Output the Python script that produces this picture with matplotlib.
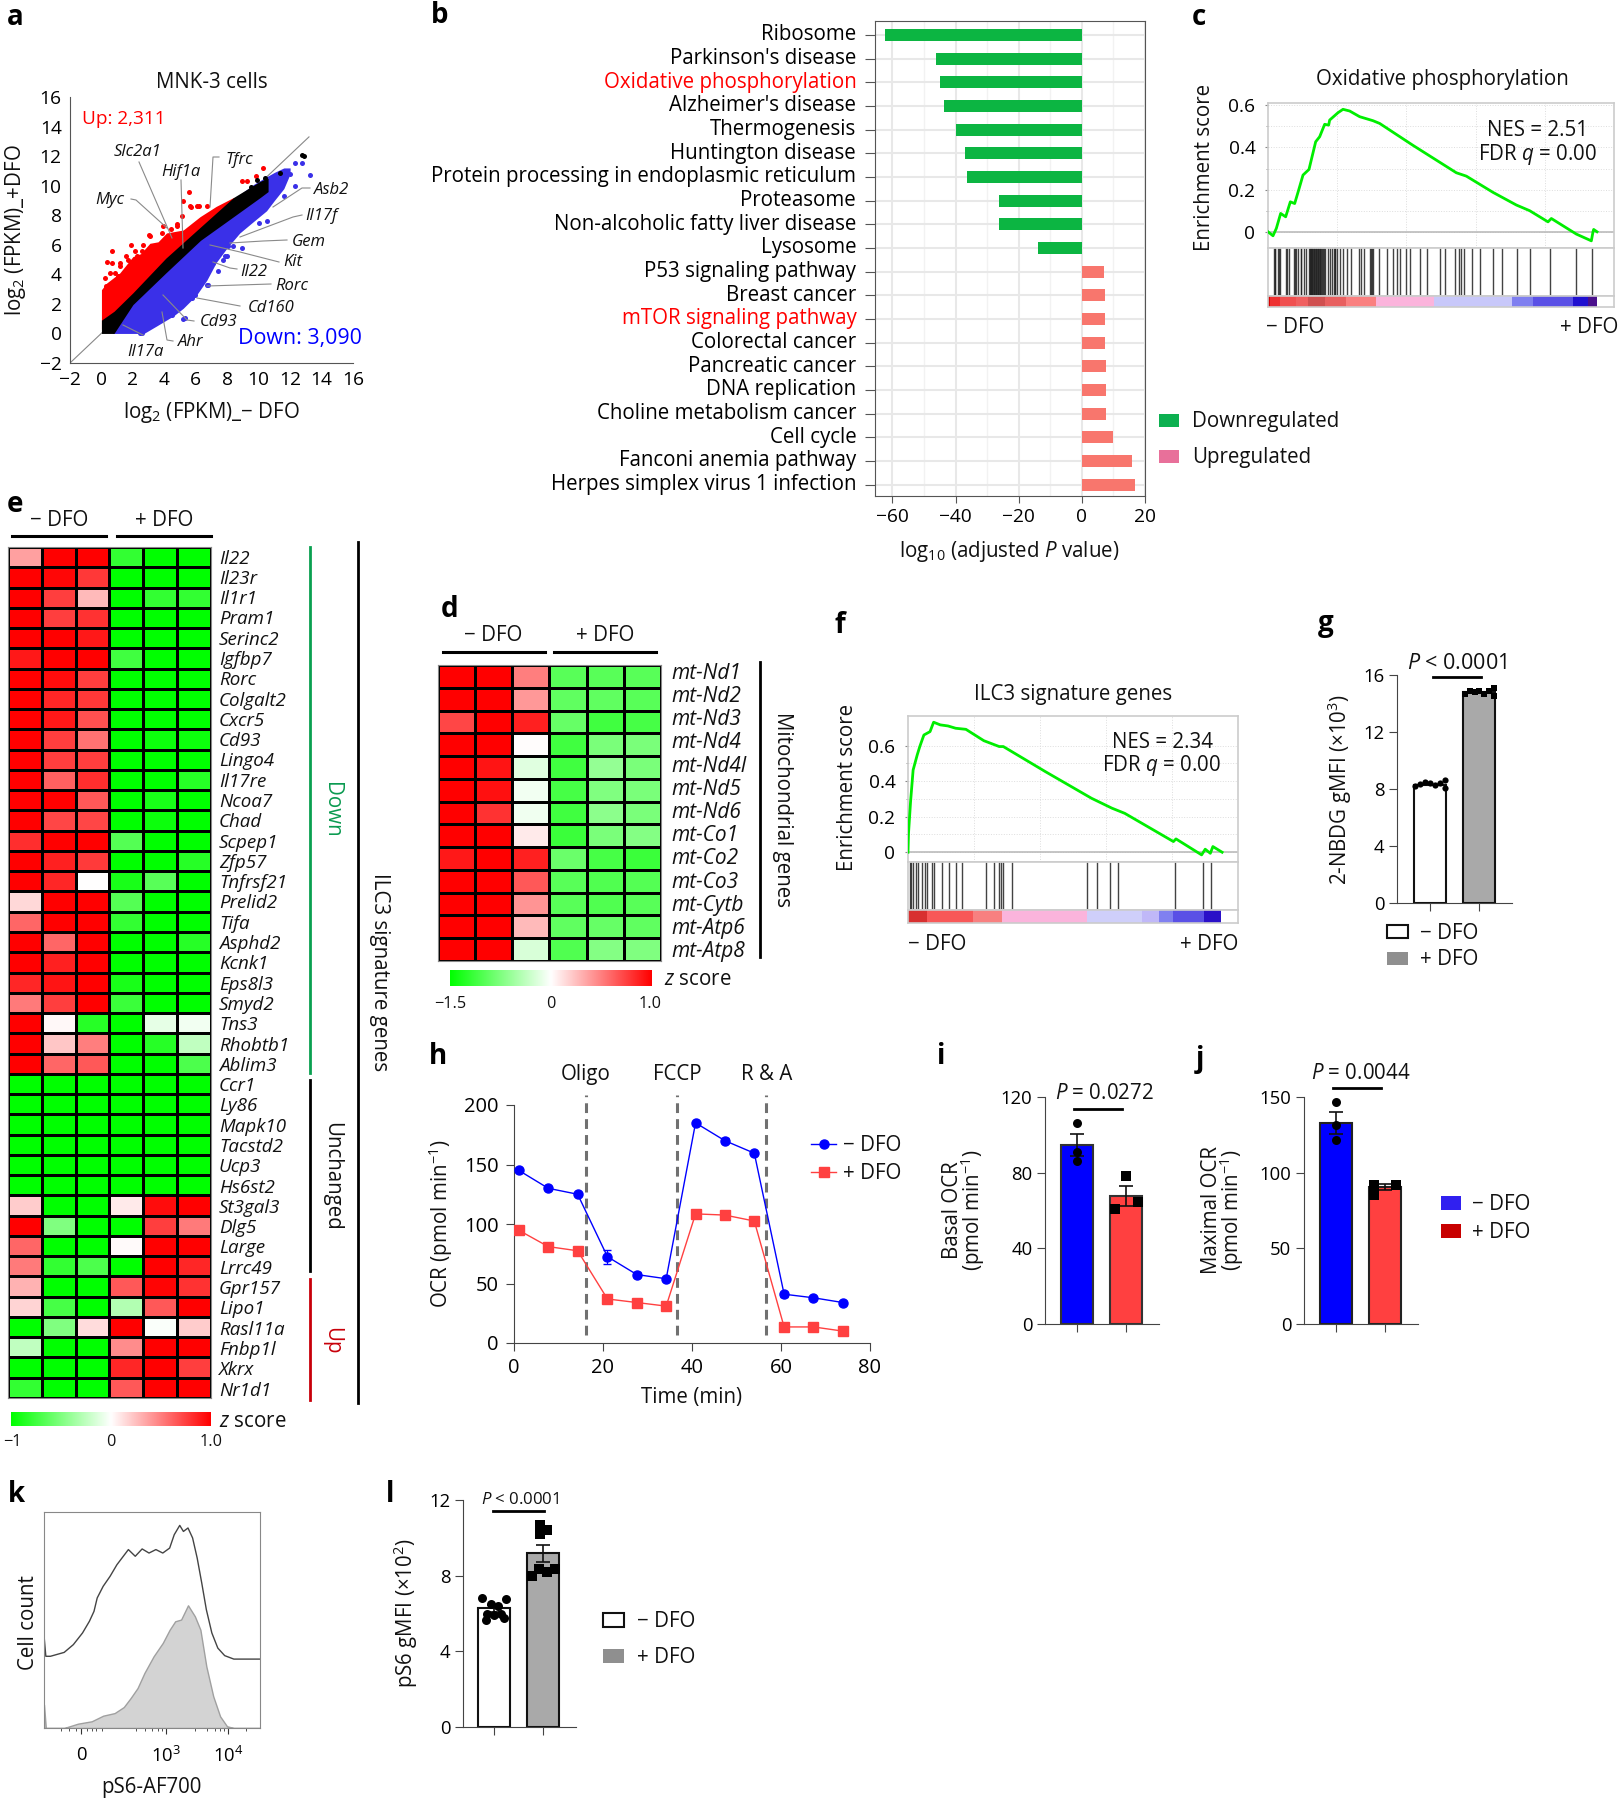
#!/usr/bin/python
import numpy as np
import matplotlib
matplotlib.use("Agg")
import matplotlib.pyplot as plt
from matplotlib.colors import LinearSegmentedColormap
from matplotlib.lines import Line2D
from matplotlib.patches import Rectangle

plt.rcParams['font.family'] = ['Open Sans', 'DejaVu Sans']
plt.rcParams['mathtext.fontset'] = 'custom'
plt.rcParams['mathtext.rm'] = 'Open Sans'
plt.rcParams['mathtext.it'] = 'Open Sans:italic'
plt.rcParams['mathtext.default'] = 'regular'

W, H = 1624, 1800
FS = 14.8
FS_GENE = 13.5

# panel a: edges of the dense clouds and the points lying outside them
red_x = [0, 0.32, 1.17, 2.0, 2.5, 3.08, 3.6, 4.14, 5.2, 6.27, 7.3, 8.4, 9.0, 9.6]
red_top = [2.96, 3.4, 4.1, 5.2, 5.4, 6.1, 6.2, 6.8, 7.0, 7.9, 8.6, 9.2, 9.05, 9.6]
red_low = [0.3, 0.6, 1.2, 2.0, 2.5, 3.1, 3.6, 4.2, 5.2, 6.2, 7.3, 8.3, 8.8, 9.4]
red_pts_x = [5.57, 5.16, 5.67, 6.23, 5.12, 4.42, 4.78, 10.26, 9.84, 8.92, 9.24, 0.64, 1.91, 2.12, 2.65, 1.59,
             0.64, 1.17, 0.53, 0.32, 1.06, 1.91, 3.08, 3.82, 6.69, 0.36, 3.02, 3.93, 4.78, 6.06, 5.63, 1.17, 1.7,
             2.23, 2.55, 0.85, 0.21]
red_pts_y = [9.55, 8.94, 8.56, 8.65, 7.93, 7.09, 7.25, 11.2, 10.68, 10.34, 10.29, 5.56, 6.0, 5.56, 6.0, 5.22,
             4.77, 4.54, 4.09, 3.19, 3.87, 4.77, 6.57, 6.8, 8.6, 4.81, 6.68, 7.25, 7.43, 8.65, 8.65, 4.77, 5.0,
             5.22, 5.56, 4.09, 3.75]
blue_x = [0.7, 2.7, 3.5, 4.6, 5.2, 6.05, 6.7, 7.3, 8, 8.8, 9.7, 10.5, 11, 11.6, 12]
blue_low = [0, 0, 0.5, 1.2, 1.7, 2.6, 3.6, 4.8, 5.8, 6.8, 7.6, 8.3, 9, 9.8, 10.8]
blue_top = [0.8, 3.1, 3.9, 5.1, 5.7, 6.6, 7.3, 7.9, 8.5, 9.4, 10.1, 10.6, 10.9, 11.2, 11.2]
blue_pts_x = [12.75, 12.33, 13.28, 12.33, 12.0, 11.58, 10.52, 9.99, 8.92, 8.39, 7.44, 6.8, 5.74, 5.2, 4.5, 2.44,
              7.97, 7.12, 6.27, 7.86, 8.07, 7.75, 6.73, 5.95, 5.31, 3.82, 2.55]
blue_pts_y = [11.53, 11.53, 10.75, 9.96, 10.8, 9.28, 7.59, 7.47, 5.78, 5.9, 4.2, 3.26, 2.4, 0.98, 1.27, 0.03,
              5.22, 4.77, 3.41, 5.22, 5.9, 5.0, 3.3, 2.62, 1.05, 1.6, 0.03]
black_x = [0, 0.8, 2, 4.1, 6.3, 8.4, 10.1, 10.6]
black_top = [0.9, 1.5, 2.75, 5.1, 7.2, 9.2, 10.3, 10.5]
black_low = [0, 0, 1.95, 4.1, 6.3, 7.9, 9.2, 9.6]
black_pts_x = [12.75, 12.9, 11.33, 9.5, 9.9, 10.4]
black_pts_y = [12.1, 12.0, 10.86, 9.9, 10.4, 10.5]
a_ticks = [-2, 0, 2, 4, 6, 8, 10, 12, 14, 16]

# label, label centre, then the leader line (px)
a_genes = [
    ('Slc2a1', 138, 151, [139, 172], [162, 238]),
    ('Hif1a', 181, 171, [181, 183], [180, 248]),
    ('Tfrc', 239, 158, [219, 213, 210], [157, 157, 207]),
    ('Myc', 110, 198, [131, 136, 167], [199, 200, 228]),
    ('Asb2', 332, 188, [310, 302, 273], [188, 188, 207]),
    ('Il17f', 321, 214, [302, 293, 240], [215, 217, 237]),
    ('Gem', 309, 240, [287, 263, 230], [240, 241, 243]),
    ('Kit', 293, 260, [279, 240, 210], [262, 252, 245]),
    ('Il22', 254, 270, [237, 230, 213], [269, 268, 262]),
    ('Rorc', 292, 284, [271, 207], [284, 286]),
    ('Cd160', 271, 306, [240, 197], [306, 298]),
    ('Cd93', 219, 321, [194, 187, 163], [321, 320, 295]),
    ('Ahr', 191, 341, [173, 167, 162], [341, 340, 312]),
    ('Il17a', 145, 351, [143, 123], [335, 325]),
]

# panel b
pathways = ['Ribosome', "Parkinson's disease", 'Oxidative phosphorylation', "Alzheimer's disease", 'Thermogenesis',
            'Huntington disease', 'Protein processing in endoplasmic reticulum', 'Proteasome',
            'Non-alcoholic fatty liver disease', 'Lysosome', 'P53 signaling pathway', 'Breast cancer',
            'mTOR signaling pathway', 'Colorectal cancer', 'Pancreatic cancer', 'DNA replication',
            'Choline metabolism cancer', 'Cell cycle', 'Fanconi anemia pathway', 'Herpes simplex virus 1 infection']
path_values = [-62.3, -46.3, -45, -43.8, -39.8, -37, -36.3, -26.2, -26.2, -13.8,
               7.1, 7.2, 7.3, 7.3, 7.5, 7.5, 7.6, 10, 15.9, 16.8]
path_red = ['Oxidative phosphorylation', 'mTOR signaling pathway']

# panel c
c_rank = [0, 15, 25, 38, 53, 67, 80, 92, 105, 123, 143, 155, 170, 182, 185, 210, 225, 245, 275, 315, 335, 435, 565,
          595, 675, 745, 785, 840, 850, 925, 970, 975, 977, 987]
c_es = [0, -.019, .016, .087, .071, .142, .134, .198, .269, .296, .427, .451, .510, .506, .530, .565, .581, .573,
        .546, .527, .514, .410, .280, .264, .187, .127, .100, .047, .063, -.011, -.043, 0, .011, 0]
c_hits = [17, 20, 22, 30, 33, 35, 55, 58, 62, 78, 82, 85, 90, 98, 100, 107, 115, 122, 125, 127, 128, 130, 131, 133,
          135, 137, 139, 141, 143, 145, 147, 149, 151, 153, 155, 157, 160, 162, 165, 167, 170, 180, 185, 193, 197,
          200, 202, 207, 215, 225, 238, 250, 272, 280, 287, 305, 308, 312, 315, 333, 357, 375, 387, 395, 415, 427,
          457, 477, 517, 530, 560, 573, 580, 587, 613, 637, 675, 703, 747, 785, 845, 925, 972]
c_seg_ends = [7, 35, 85, 120, 170, 235, 325, 497, 733, 795, 915, 960, 987]
c_seg_cols = ['#d80000', '#ee3030', '#f05050', '#f06060', '#d05050', '#e86060', '#fa8080', '#fbb4dc', '#c8c8fa',
              '#7f7ff0', '#5a50e6', '#2010d0', '#4a108c']

# panel f
f_rank = [0, 1, 5, 10, 18, 23, 31, 43, 50, 63, 78, 93, 113, 148, 178, 186, 268, 358, 398, 423, 518, 523, 573, 580,
          590, 595, 613]
f_es = [0, .107, .285, .463, .548, .595, .66, .679, .732, .717, .711, .698, .692, .628, .595, .595, .454, .304,
        .248, .219, .060, .075, -.015, .017, -.006, .032, 0]
f_hits = [3, 6, 10, 15, 20, 27, 33, 38, 46, 50, 66, 80, 94, 106, 153, 168, 178, 182, 185, 202, 349, 368, 395, 410,
          522, 576, 591]
f_seg_ends = [38, 126, 184, 349, 456, 490, 518, 578, 611]
f_seg_cols = ['#d83030', '#f85858', '#f88080', '#fbb4dc', '#cfcffa', '#c0b8f8', '#8080f0', '#5a50e6', '#2a10c8']

# panel e
e_genes = ['Il22', 'Il23r', 'Il1r1', 'Pram1', 'Serinc2', 'Igfbp7', 'Rorc', 'Colgalt2', 'Cxcr5', 'Cd93', 'Lingo4',
           'Il17re', 'Ncoa7', 'Chad', 'Scpep1', 'Zfp57', 'Tnfrsf21', 'Prelid2', 'Tifa', 'Asphd2', 'Kcnk1', 'Eps8l3',
           'Smyd2', 'Tns3', 'Rhobtb1', 'Ablim3', 'Ccr1', 'Ly86', 'Mapk10', 'Tacstd2', 'Ucp3', 'Hs6st2', 'St3gal3',
           'Dlg5', 'Large', 'Lrrc49', 'Gpr157', 'Lipo1', 'Rasl11a', 'Fnbp1l', 'Xkrx', 'Nr1d1']
e_z = [
    [.37, 1, 1, -.8, -1, -1], [1, .97, .78, -1, -1, -1], [1, .75, .27, -1, -.8, -.8], [1, .75, .8, -1, -1, -1],
    [1, 1, .9, -1, -1, -1], [.9, 1, 1, -.75, -1, -1], [1, .95, .75, -1, -1, -1], [1, .85, .78, -1, -1, -1],
    [1, .9, .68, -1, -1, -1], [1, .75, .55, -1, -.95, -.95], [1, .75, .75, -1, -1, -1], [1, .62, .82, -1, -1, -.85],
    [1, 1, .65, -1, -.9, -1], [1, .72, .72, -1, -.95, -1], [.82, 1, 1, -.67, -1, -1], [1, .87, .77, -1, -1, -.85],
    [1, .85, 0, -.9, -.65, -1], [.15, 1, 1, -.67, -1, -1], [.6, 1, 1, -.8, -1, -1], [1, .6, 1, -1, -1, -.85],
    [1, .87, 1, -1, -1, -1], [.85, .92, 1, -.9, -1, -1], [.52, .75, 1, -.77, -1, -1], [1, .03, -.85, -1, -.1, -.05],
    [1, .22, .5, -1, -.85, -.25], [1, .6, .65, -1, -1, -.7], [-1, -1, -1, -1, -1, -1], [-1, -1, -1, -1, -1, -1],
    [-1, -1, -1, -1, -1, -1], [-1, -1, -1, -1, -1, -1], [-1, -1, -1, -1, -1, -1], [-1, -1, -1, -1, -1, -1],
    [.2, -1, -1, .08, .95, 1], [1, -.5, -1, -1, .75, .52], [.6, -1, -1, .02, 1, 1], [.52, -.8, -.7, -1, 1, .85],
    [.3, -1, -1, .65, .98, .8], [.17, -.72, -1, -.3, .65, 1], [-1, -.5, .14, 1, -.02, .2], [-.25, -1, -1, .45, 1, 1],
    [-1, -1, -1, .85, 1, .75], [-.8, -1, -1, .65, 1, 1]]

# panel d
d_genes = ['mt-Nd1', 'mt-Nd2', 'mt-Nd3', 'mt-Nd4', 'mt-Nd4l', 'mt-Nd5', 'mt-Nd6', 'mt-Co1', 'mt-Co2', 'mt-Co3',
           'mt-Cytb', 'mt-Atp6', 'mt-Atp8']
d_z = [
    [1, 1, .5, -.65, -.65, -.65], [1, 1, .4, -.62, -.62, -.65], [.72, 1, .87, -.6, -.75, -.72],
    [1, 1, .01, -.75, -.52, -.52], [1, .92, -.12, -.75, -.42, -.52], [1, .93, -.05, -.72, -.5, -.52],
    [1, .8, -.06, -.75, -.45, -.52], [1, 1, .08, -.77, -.52, -.48], [.9, 1, .87, -.58, -.72, -.77],
    [1, 1, .65, -.65, -.68, -.67], [1, 1, .42, -.65, -.68, -.65], [1, 1, .27, -.62, -.6, -.62],
    [1, 1, -.15, -.68, -.48, -.5]]

# panel h
time_min = [1.1, 7.7, 14.3, 21, 27.6, 34.2, 40.8, 47.4, 54, 60.7, 67.3, 73.9]
ocr_minus = [145, 130, 125, 72.5, 57.5, 54, 185, 170, 159.5, 41, 38, 34]
ocr_plus = [94.7, 81, 77.5, 37, 34, 31, 108.5, 107.5, 102.5, 13.5, 13.5, 10]
ocr_minus_err = [1, 1, 1, 6, 2, 1, 1, 2, 1, 2, 1, 1]
inject_t = [16.1, 36.6, 56.7]
inject_names = ['Oligo', 'FCCP', 'R & A']

# bar panels g, i, j, l
g_means = [8.3, 14.8]
g_dx0 = [-.3, -.2, -.1, 0, .1, .2, .3, .3]
g_y0 = [8.2, 8.35, 8.5, 8.4, 8.3, 8.4, 8.1, 8.6]
g_dx1 = [-.3, -.2, -.1, 0, .1, .2, .3, .3]
g_y1 = [14.7, 14.9, 14.8, 14.85, 14.7, 14.9, 14.5, 15.1]
i_means = [94.7, 67.5]
i_err = [6, 5.2]
i_y0 = [106.5, 91, 86.4]
i_dx1 = [0, .24, -.23]
i_y1 = [78.3, 64.7, 60.7]
j_means = [133, 90.6]
j_err = [7.4, 2]
j_y0 = [146.5, 131.7, 121.4]
j_dx1 = [-.24, -.24, .22]
j_y1 = [92, 85, 92]
l_means = [6.27, 9.18]
l_err = [.2, .45]
l_dx0 = [-.25, .24, -.08, .08, -.16, .14, -.02, -.18, .2]
l_y0 = [6.8, 6.77, 6.5, 6.4, 6.0, 6.0, 5.9, 5.66, 5.75]
l_dx1 = [-.08, .07, -.08, -.24, -.1, .07, .23]
l_y1 = [10.68, 10.4, 10.2, 8.0, 8.33, 8.2, 8.33]

# panel k
k_rank_top = [0, 4, 14, 44, 64, 84, 99, 109, 116, 129, 144, 159, 174, 184, 199, 214, 229, 244, 259, 274, 284, 296,
              304, 314, 324, 334, 344, 354, 366, 379, 394, 414, 471]
k_top = [42.9, 33.2, 33.2, 35, 38.6, 44, 49.4, 54, 60.2, 65.6, 70.2, 75.6, 79.8, 82.6, 79.5, 82.9, 81, 82.6, 81,
         83.3, 89.5, 93.8, 91, 92.6, 88, 78.7, 67.1, 54.8, 44, 37, 33.5, 31.9, 31.9]
k_rank_low = [0, 4, 44, 74, 104, 129, 154, 174, 189, 204, 219, 239, 259, 274, 286, 299, 314, 329, 341, 354, 369,
              384, 399, 414, 471]
k_low = [10.8, 0, 0, 2, 3.1, 5.7, 6.9, 9.7, 13.9, 18.5, 25.5, 33.2, 39.4, 45.5, 49.4, 50.2, 56.8, 51.7, 45.5, 28.5,
         14.7, 5.4, .8, 0, 0]
k_tick_pos = [81, 266, 401]
k_tick_lab = ['0', '$10^3$', '$10^4$']
k_minor = [37, 54, 69, 94, 104, 114, 126, 200, 220, 236, 248, 258, 330, 355, 372, 384, 392, 440]

zcmap = LinearSegmentedColormap.from_list('gwr', ['#00ff00', '#ffffff', '#ff0000'])
fig = plt.figure(figsize=(W / 100, H / 100), dpi=100, facecolor='white')


def add_ax(l, t, r, b):
    return fig.add_axes([l / W, 1 - b / H, (r - l) / W, (b - t) / H])


def ftxt(x, y, s, **kw):
    kw.setdefault('ha', 'center')
    kw.setdefault('va', 'center')
    kw.setdefault('fontsize', FS)
    kw.setdefault('color', '#111111')
    if 'rotation' not in kw:
        y = y + 1.5  # centre of the box sits above the centre of the glyphs
    return fig.text(x / W, 1 - y / H, s, **kw)


def fline(xs, ys, color='black', lw=1.0, **kw):
    fig.add_artist(Line2D([x / W for x in xs], [1 - y / H for y in ys], color=color, lw=lw, **kw))


def fbox(x0, y0, w, h, fc, ec='none', lw=1.0):
    fig.add_artist(Rectangle((x0 / W, 1 - (y0 + h) / H), w / W, h / H, transform=fig.transFigure,
                             fc=fc, ec=ec, lw=lw))


for s, x, y in [('a', 15, 16), ('b', 440, 14), ('c', 1199, 16), ('e', 15, 503), ('d', 450, 608), ('f', 840, 624),
                ('g', 1326, 622), ('h', 438, 1055), ('i', 941, 1055), ('j', 1200, 1058), ('k', 16, 1493),
                ('l', 390, 1493)]:
    ftxt(x, y, s, fontsize=20, fontweight='bold', color='black')

# ---- a
ax = add_ax(70, 97, 353, 363)
ax.plot([-2, 13.2], [-2, 13.3], color='#888888', lw=0.8, zorder=0.5)
ax.fill_between(red_x, red_low, red_top, color='#ff0000', lw=0)
ax.fill_between(blue_x, blue_low, blue_top, color='#3a30e8', lw=0)
ax.scatter(red_pts_x, red_pts_y, s=13, color='#ff0000', lw=0, zorder=3)
ax.scatter(blue_pts_x, blue_pts_y, s=13, color='#3a30e8', lw=0, zorder=3)
ax.fill_between(black_x, black_low, black_top, color='black', lw=0, zorder=4)
ax.scatter(black_pts_x, black_pts_y, s=13, color='black', lw=0, zorder=4)
ax.set_xlim(-2, 16)
ax.set_ylim(-2, 16)
ax.set_xticks(a_ticks)
ax.set_yticks(a_ticks)
ax.set_xticklabels(['\u2212%d' % abs(v) if v < 0 else '%d' % v for v in a_ticks])
ax.set_yticklabels(['\u2212%d' % abs(v) if v < 0 else '%d' % v for v in a_ticks])
ax.tick_params(length=0, labelsize=FS - 1, pad=6)
for sp in ['top', 'right']:
    ax.spines[sp].set_visible(False)
for sp in ['left', 'bottom']:
    ax.spines[sp].set_color('#555555')
ftxt(212, 81, 'MNK-3 cells')
ftxt(82, 117, 'Up: 2,311', ha='left', color='#ff0000', fontsize=13.7)
ftxt(238, 337, 'Down: 3,090', ha='left', color='#0000ff', fontsize=15.4)
ftxt(212, 411, 'log$_2$ (FPKM)_\u2212 DFO')
ftxt(16, 230, 'log$_2$ (FPKM)_+DFO', rotation=90)
for name, x, y, lx, ly in a_genes:
    ftxt(x, y, name, style='italic', fontsize=12)
    fline(lx, ly, color='#8a8a8a', lw=0.8)

# ---- b
ax = add_ax(875, 21, 1145, 496)
ypos = np.arange(len(pathways))
ax.barh(ypos, path_values, height=0.5, color=['#0cb542' if v < 0 else '#f8766d' for v in path_values], zorder=3)
ax.set_xlim(-65.5, 20)
ax.set_ylim(19.48, -0.59)
ax.set_xticks([-60, -40, -20, 0, 20])
ax.set_xticklabels(['\u221260', '\u221240', '\u221220', '0', '20'])
ax.set_xticks([-50, -30, -10, 10], minor=True)
ax.set_yticks(ypos)
ax.set_yticklabels(pathways, fontsize=FS, va='center')
for lab in ax.get_yticklabels():
    if lab.get_text() in path_red:
        lab.set_color('#ff0000')
ax.grid(True, which='major', color='#e8e8e8', lw=1.5, zorder=0)
ax.grid(True, which='minor', axis='x', color='#f2f2f2', lw=1, zorder=0)
ax.tick_params(axis='y', length=7, width=0.8, color='#555555', pad=6.5)
ax.tick_params(axis='x', which='major', length=5, width=0.8, color='#555555', labelsize=FS - 1)
ax.tick_params(axis='x', which='minor', length=0)
for sp in ax.spines.values():
    sp.set_color('#555555')
ftxt(1009, 550, 'log$_{10}$ (adjusted $\\mathit{P}$ value)')
fbox(1159, 414, 20, 13, '#0cb050')
fbox(1159, 450, 20, 13, '#e8709a')
ftxt(1192, 420, 'Downregulated', ha='left')
ftxt(1192, 456, 'Upregulated', ha='left')


# ---- c, f
def gsea(box, ylim, rmax, rank, es, hits, seg_ends, seg_cols):
    l, t, r, b1, b2, b3 = box
    a1 = add_ax(l, t, r, b1)
    a1.plot(rank, es, color='#00ee00', lw=2, zorder=3)
    a1.axhline(0, color='#bbbbbb', lw=1.2, zorder=2)
    a1.set_xlim(0, rmax)
    a1.set_ylim(*ylim)
    a1.set_yticks([0, .2, .4, .6])
    a1.set_yticklabels(['0', '0.2', '0.4', '0.6'])
    a1.set_yticks([.1, .3, .5], minor=True)
    a1.set_xticks(np.arange(0.2, 1, 0.2) * rmax)
    a1.set_xticklabels([])
    a1.grid(True, which='both', color='#dddddd', lw=0.7, ls=':')
    a1.tick_params(axis='x', length=0)
    a1.tick_params(axis='y', which='major', length=2, labelsize=FS - 1, color='#888888', pad=7)
    a1.tick_params(axis='y', which='minor', length=1.5, color='#888888')
    a2 = add_ax(l, b1, r, b2)
    a2.vlines(hits, 0, 1, color='#222222', lw=1.0, alpha=0.85)
    a2.set_xlim(0, rmax)
    a2.set_ylim(0, 1)
    a2.set_xticks([])
    a2.set_yticks([])
    a3 = add_ax(l, b2, r, b3)
    start = 0
    for end, col in zip(seg_ends, seg_cols):
        a3.axvspan(start, end, color=col, lw=0)
        start = end
    a3.set_xlim(0, rmax)
    a3.set_xticks([])
    a3.set_yticks([])
    for a in (a1, a2, a3):
        for sp in a.spines.values():
            sp.set_color('#cccccc')
            sp.set_linewidth(1.2)


gsea((1268, 103, 1614, 248, 296, 307), (-.077, .611), 1038, c_rank, c_es, c_hits, c_seg_ends, c_seg_cols)
ftxt(1442, 78, 'Oxidative phosphorylation')
ftxt(1538, 129, 'NES = 2.51')
ftxt(1538, 153, 'FDR $\\mathit{q}$ = 0.00')
ftxt(1205, 167, 'Enrichment score', rotation=90)
ftxt(1266, 326, '\u2212 DFO', ha='left')
ftxt(1618, 326, '+ DFO', ha='right')

gsea((908, 716, 1238, 862, 910, 923), (-.055, .767), 644, f_rank, f_es, f_hits, f_seg_ends, f_seg_cols)
ftxt(1073, 693, 'ILC3 signature genes')
ftxt(1162, 741, 'NES = 2.34')
ftxt(1162, 764, 'FDR $\\mathit{q}$ = 0.00')
ftxt(848, 787, 'Enrichment score', rotation=90)
ftxt(908, 943, '\u2212 DFO', ha='left')
ftxt(1238, 943, '+ DFO', ha='right')


# ---- e, d
def heat(box, z, genes, lab_x, lab_first, lab_last, lab_fs):
    l, t, r, b = box
    a = add_ax(l, t, r, b)
    a.pcolormesh(np.array(z)[::-1], cmap=zcmap, vmin=-1, vmax=1, edgecolors='black', linewidth=1.0)
    a.set_xticks([])
    a.set_yticks([])
    for sp in a.spines.values():
        sp.set_color('#888888')
    dy = (lab_last - lab_first) / (len(genes) - 1)
    for i, g in enumerate(genes):
        ftxt(lab_x, lab_first + dy * i, g, ha='left', style='italic', fontsize=lab_fs)


def zbar(l, t, r, b):
    a = add_ax(l, t, r, b)
    a.imshow(np.linspace(-1, 1, 256)[None, :], cmap=zcmap, aspect='auto', vmin=-1, vmax=1)
    a.axis('off')


heat((8, 547, 211, 1398), e_z, e_genes, 219, 557, 1389, FS_GENE)
ftxt(59, 519, '\u2212 DFO')
ftxt(164, 519, '+ DFO')
fline([12, 106], [536, 536], lw=2.2)
fline([117, 211], [536, 536], lw=2.2)
fline([310, 310], [547, 1073], color='#0aa050', lw=2)
fline([310, 310], [1080, 1271], color='black', lw=2)
fline([310, 310], [1279, 1400], color='#c8000a', lw=2)
fline([358, 358], [542, 1403], color='black', lw=2)
ftxt(332, 810, 'Down', rotation=-90, color='#0a9a50')
ftxt(332, 1176, 'Unchanged', rotation=-90)
ftxt(332, 1341, 'Up', rotation=-90, color='#c8000a')
ftxt(380, 972, 'ILC3 signature genes', rotation=-90)
zbar(11, 1412, 211, 1426)
ftxt(219, 1420, '$\\mathit{z}$ score', ha='left')
ftxt(12, 1441, '\u22121', fontsize=11.7)
ftxt(111, 1441, '0', fontsize=11.7)
ftxt(211, 1441, '1.0', fontsize=11.7)

heat((438, 665, 661, 961), d_z, d_genes, 671, 672, 950, 15)
ftxt(493, 634, '\u2212 DFO')
ftxt(605, 634, '+ DFO')
fline([443, 545], [652, 652], lw=2.2)
fline([554, 656], [652, 652], lw=2.2)
fline([760, 760], [662, 957], lw=2)
ftxt(783, 810, 'Mitochondrial genes', rotation=-90)
zbar(450, 970, 652, 986)
ftxt(664, 978, '$\\mathit{z}$ score', ha='left')
ftxt(450, 1002, '\u22121.5', fontsize=11.7)
ftxt(551, 1002, '0', fontsize=11.7)
ftxt(650, 1002, '1.0', fontsize=11.7)

# ---- h
ax = add_ax(514, 1105, 870, 1343)
ax.errorbar(time_min, ocr_minus, yerr=ocr_minus_err, color='#0000ff', marker='o', ms=6.5, lw=1, capsize=3,
            elinewidth=0.8, zorder=4)
ax.plot(time_min, ocr_plus, color='#ff4040', marker='s', ms=6.5, lw=1, zorder=3)
ax.vlines(inject_t, 7, 208, color='#707070', lw=2.2, linestyles=(0, (3.2, 2)), clip_on=False, zorder=2)
ax.set_xlim(0, 80)
ax.set_ylim(0, 200)
ax.set_xticks([0, 20, 40, 60, 80])
ax.set_yticks([0, 50, 100, 150, 200])
ax.tick_params(length=6, width=0.8, color='#444444', labelsize=FS - 0.3, pad=5)
for sp in ['top', 'right']:
    ax.spines[sp].set_visible(False)
for sp in ['left', 'bottom']:
    ax.spines[sp].set_color('#444444')
for t, name in zip([586, 677, 767], inject_names):
    ftxt(t, 1073, name)
ftxt(692, 1396, 'Time (min)')
ftxt(441, 1224, 'OCR (pmol min$^{-1}$)', rotation=90)
fline([811, 836], [1144, 1144], color='#0000ff', lw=1)
fline([811, 836], [1172, 1172], color='#ff4040', lw=1)
fline([823.5], [1144], color='#0000ff', marker='o', ms=6.5, lw=0)
fline([823.5], [1172], color='#ff4040', marker='s', ms=6.5, lw=0)
ftxt(843, 1144, '\u2212 DFO', ha='left')
ftxt(843, 1172, '+ DFO', ha='left')


# ---- bar panels
def bar_panel(box, step, c0, ymax, yticks, means, cols, ecol, err=None):
    l, t, r, b = box
    a = add_ax(l, t, r, b)
    a.bar([0, 1], means, width=32 / step, color=cols, edgecolor=ecol, lw=1.5, zorder=2)
    if err is not None:
        a.errorbar([0, 1], means, yerr=err, fmt='none', ecolor='#111111', elinewidth=1.2, capsize=5, capthick=1.2,
                   zorder=5)
    a.set_xlim((l - c0) / step, (r - c0) / step)
    a.set_ylim(0, ymax)
    a.set_xticks([0, 1])
    a.set_xticklabels([])
    a.set_yticks(yticks)
    a.tick_params(length=6, width=0.8, color='#444444', labelsize=FS - 1.5, pad=3)
    for sp in ['top', 'right']:
        a.spines[sp].set_visible(False)
    for sp in ['left', 'bottom']:
        a.spines[sp].set_color('#444444')
    return a


# g
ax = bar_panel((1397, 675, 1512, 903), 49.5, 1430, 16, [0, 4, 8, 12, 16], g_means, ['white', '#a9a9a9'], '#111111')
ax.scatter(g_dx0, g_y0, s=20, color='black', zorder=6, lw=0)
ax.scatter(np.array(g_dx1) + 1, g_y1, s=20, color='black', marker='s', zorder=6, lw=0)
ftxt(1457, 662, '$\\mathit{P}$ < 0.0001', fontsize=15.5)
fline([1433, 1481], [677, 677], lw=2)
ftxt(1340, 790, '2-NBDG gMFI (\u00d710$^3$)', rotation=90)
fbox(1387, 925, 21, 13, 'white', ec='#111111', lw=1.5)
fbox(1387, 952, 21, 13, '#8f8f8f')
ftxt(1420, 932, '\u2212 DFO', ha='left')
ftxt(1420, 958, '+ DFO', ha='left')

# i
ax = bar_panel((1045, 1097, 1159, 1324), 49.5, 1077, 120, [0, 40, 80, 120], i_means, ['#0000ff', '#ff4040'],
               '#333333', err=i_err)
ax.scatter([0, 0, 0], i_y0, s=42, color='black', zorder=6, lw=0)
ax.scatter(np.array(i_dx1) + 1, i_y1, s=42, color='black', marker='s', zorder=6, lw=0)
ftxt(1104, 1092, '$\\mathit{P}$ = 0.0272')
fline([1074, 1122], [1109, 1109], lw=2)
ftxt(953, 1210, 'Basal OCR', rotation=90)
ftxt(973, 1210, '(pmol min$^{-1}$)', rotation=90)

# j
ax = bar_panel((1304, 1097, 1418, 1324), 49.5, 1336, 150, [0, 50, 100, 150], j_means, ['#0000ff', '#ff4040'],
               '#222222', err=j_err)
ax.scatter([0, 0, 0], j_y0, s=42, color='black', zorder=6, lw=0)
ax.scatter(np.array(j_dx1) + 1, j_y1, s=42, color='black', marker='s', zorder=6, lw=0)
ftxt(1361, 1072, '$\\mathit{P}$ = 0.0044')
fline([1333, 1381], [1088, 1088], lw=2)
ftxt(1212, 1210, 'Maximal OCR', rotation=90)
ftxt(1232, 1210, '(pmol min$^{-1}$)', rotation=90)
fbox(1441, 1196, 20, 14, '#3020f0')
fbox(1441, 1224, 20, 14, '#c80000')
ftxt(1472, 1203, '\u2212 DFO', ha='left')
ftxt(1472, 1231, '+ DFO', ha='left')

# k
ax = add_ax(44, 1512, 260, 1728)
ax.plot(k_rank_top, k_top, color='#444444', lw=1)
ax.fill_between(k_rank_low, 0, k_low, facecolor='#d3d3d3', edgecolor='#a0a0a0', lw=1)
ax.set_xlim(0, 471)
ax.set_ylim(0, 100)
ax.set_xticks(k_tick_pos)
ax.set_xticklabels(k_tick_lab)
ax.set_xticks(k_minor, minor=True)
ax.set_yticks([])
ax.tick_params(axis='x', which='major', length=4, width=0.8, labelsize=FS - 1.5, pad=9, color='#333333')
ax.tick_params(axis='x', which='minor', length=2, width=0.6, color='#333333')
for sp in ax.spines.values():
    sp.set_color('#888888')
ftxt(151, 1786, 'pS6-AF700')
ftxt(29, 1623, 'Cell count', rotation=90)

# l
ax = bar_panel((463, 1500, 576, 1727), 49, 494.5, 12, [0, 4, 8, 12], l_means, ['white', '#a9a9a9'], '#111111',
               err=l_err)
ax.scatter(l_dx0, l_y0, s=42, color='black', zorder=6, lw=0)
ax.scatter(np.array(l_dx1) + 1, l_y1, s=42, color='black', marker='s', zorder=6, lw=0)
ftxt(520, 1498, '$\\mathit{P}$ < 0.0001', fontsize=12.1)
fline([493, 544], [1511, 1511], lw=2)
ftxt(406, 1613, 'pS6 gMFI (\u00d710$^2$)', rotation=90)
fbox(603, 1613, 21, 14, 'white', ec='#111111', lw=1.5)
fbox(603, 1649, 21, 14, '#8f8f8f')
ftxt(637, 1620, '\u2212 DFO', ha='left')
ftxt(637, 1656, '+ DFO', ha='left')

plt.savefig("out.png", dpi=100)
